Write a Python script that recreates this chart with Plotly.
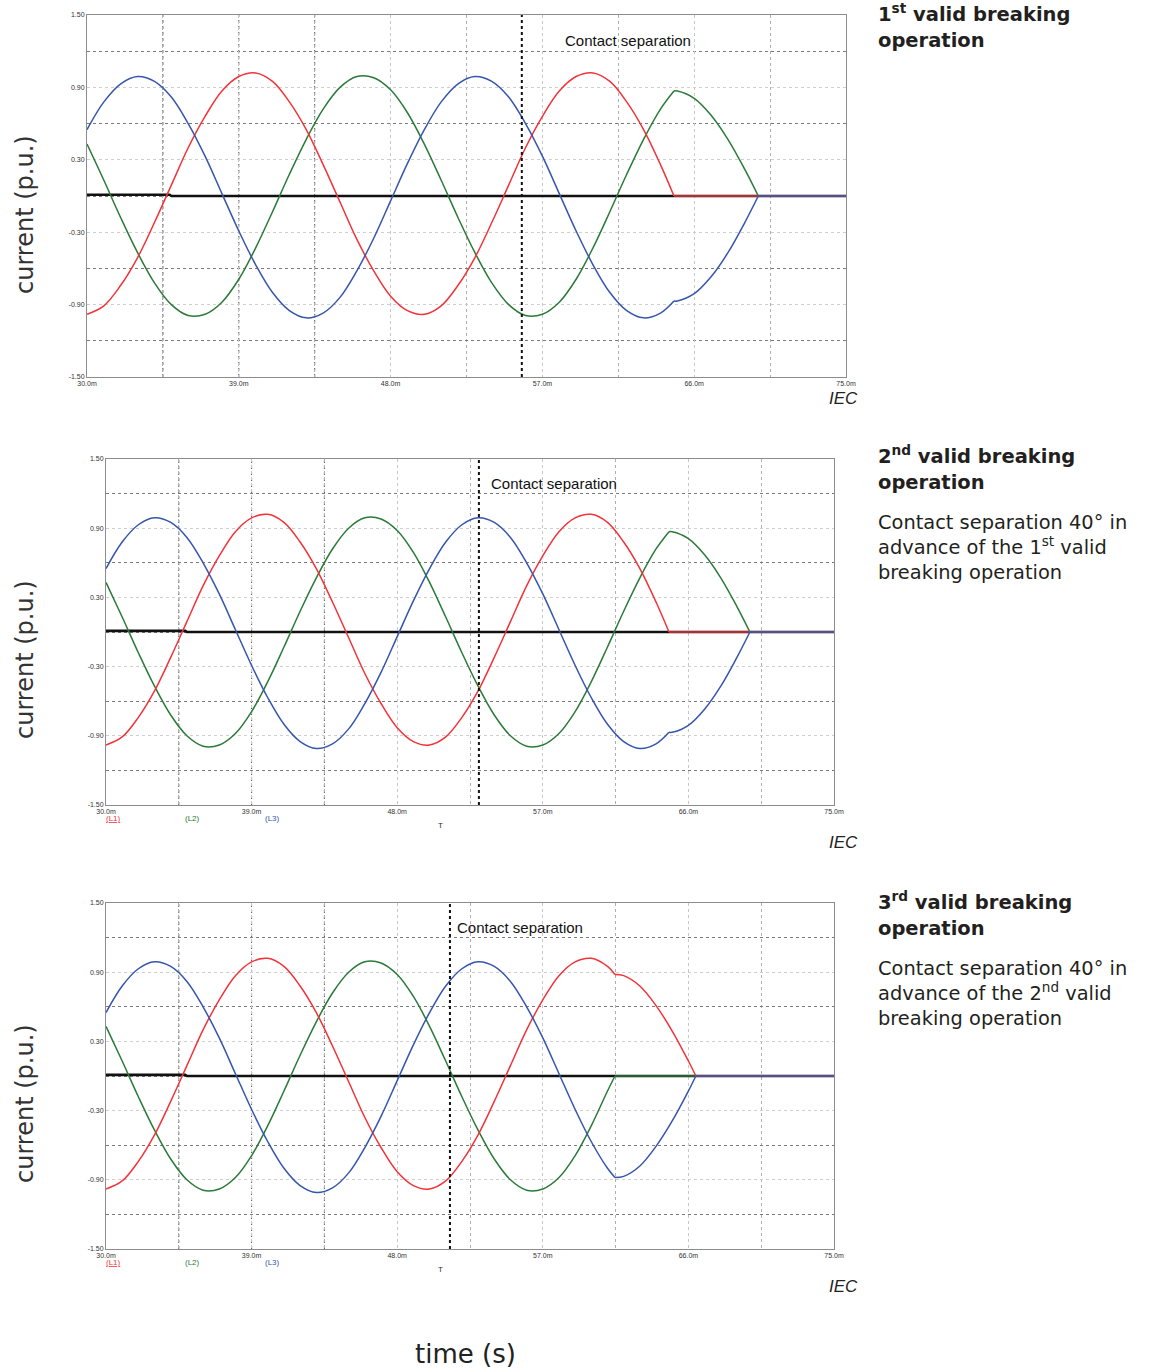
import plotly.graph_objects as go

# ---------------- data ----------------
t_tick_vals = [30, 39, 48, 57, 66, 75]
t_tick_text = ["30.0m", "39.0m", "48.0m", "57.0m", "66.0m", "75.0m"]
i_tick_vals = [1.5, 0.9, 0.3, -0.3, -0.9, -1.5]
i_tick_text = ["1.50", "0.90", "0.30", "-0.30", "-0.90", "-1.50"]

# panel 1 : 1st valid breaking operation
p1_t = [30, 31, 32, 33, 34, 35, 36, 37, 38, 39, 40, 41, 42, 43, 44, 45, 46, 47, 48, 49,
        50, 51, 52, 53, 54, 55, 56, 57, 58, 59, 60, 61, 62, 63, 64,
        64.8, 65, 66, 67, 68, 69, 69.8, 75]
p1_L1 = [-0.98, -0.91, -0.74, -0.51, -0.22, 0.09, 0.40, 0.66, 0.87, 0.99, 1.02, 0.95, 0.78, 0.55, 0.26, -0.05, -0.36, -0.62, -0.83, -0.95,
         -0.98, -0.91, -0.74, -0.51, -0.22, 0.09, 0.40, 0.66, 0.87, 0.99, 1.02, 0.95, 0.78, 0.55, 0.26,
         0.00, 0.00, 0.00, 0.00, 0.00, 0.00, 0.00, 0.00]
p1_L2 = [0.43, 0.13, -0.18, -0.47, -0.72, -0.90, -0.99, -0.98, -0.88, -0.69, -0.43, -0.13, 0.18, 0.47, 0.72, 0.90, 0.99, 0.98, 0.88, 0.69,
         0.43, 0.13, -0.18, -0.47, -0.72, -0.90, -0.99, -0.98, -0.88, -0.69, -0.43, -0.13, 0.18, 0.47, 0.72,
         0.87, 0.87, 0.81, 0.67, 0.47, 0.22, 0.00, 0.00]
p1_L3 = [0.55, 0.78, 0.93, 0.99, 0.95, 0.82, 0.60, 0.33, 0.02, -0.29, -0.57, -0.80, -0.95, -1.01, -0.97, -0.84, -0.62, -0.35, -0.04, 0.27,
         0.55, 0.78, 0.93, 0.99, 0.95, 0.82, 0.60, 0.33, 0.02, -0.29, -0.57, -0.80, -0.95, -1.01, -0.97,
         -0.87, -0.87, -0.81, -0.67, -0.47, -0.22, 0.00, 0.00]

# panel 2 : 2nd valid breaking operation
p2_t = [30, 31, 32, 33, 34, 35, 36, 37, 38, 39, 40, 41, 42, 43, 44, 45, 46, 47, 48, 49,
        50, 51, 52, 53, 54, 55, 56, 57, 58, 59, 60, 61, 62, 63, 64,
        64.8, 65, 66, 67, 68, 69, 69.8, 75]
p2_L1 = [-0.98, -0.91, -0.74, -0.51, -0.22, 0.09, 0.40, 0.66, 0.87, 0.99, 1.02, 0.95, 0.78, 0.55, 0.26, -0.05, -0.36, -0.62, -0.83, -0.95,
         -0.98, -0.91, -0.74, -0.51, -0.22, 0.09, 0.40, 0.66, 0.87, 0.99, 1.02, 0.95, 0.78, 0.55, 0.26,
         0.00, 0.00, 0.00, 0.00, 0.00, 0.00, 0.00, 0.00]
p2_L2 = [0.43, 0.13, -0.18, -0.47, -0.72, -0.90, -0.99, -0.98, -0.88, -0.69, -0.43, -0.13, 0.18, 0.47, 0.72, 0.90, 0.99, 0.98, 0.88, 0.69,
         0.43, 0.13, -0.18, -0.47, -0.72, -0.90, -0.99, -0.98, -0.88, -0.69, -0.43, -0.13, 0.18, 0.47, 0.72,
         0.87, 0.87, 0.81, 0.67, 0.47, 0.22, 0.00, 0.00]
p2_L3 = [0.55, 0.78, 0.93, 0.99, 0.95, 0.82, 0.60, 0.33, 0.02, -0.29, -0.57, -0.80, -0.95, -1.01, -0.97, -0.84, -0.62, -0.35, -0.04, 0.27,
         0.55, 0.78, 0.93, 0.99, 0.95, 0.82, 0.60, 0.33, 0.02, -0.29, -0.57, -0.80, -0.95, -1.01, -0.97,
         -0.87, -0.87, -0.81, -0.67, -0.47, -0.22, 0.00, 0.00]

# panel 3 : 3rd valid breaking operation
p3_t = [30, 31, 32, 33, 34, 35, 36, 37, 38, 39, 40, 41, 42, 43, 44, 45, 46, 47, 48, 49,
        50, 51, 52, 53, 54, 55, 56, 57, 58, 59, 60, 61,
        61.46, 62, 63, 64, 65, 66, 66.46, 75]
p3_L1 = [-0.98, -0.91, -0.74, -0.51, -0.22, 0.09, 0.40, 0.66, 0.87, 0.99, 1.02, 0.95, 0.78, 0.55, 0.26, -0.05, -0.36, -0.62, -0.83, -0.95,
         -0.98, -0.91, -0.74, -0.51, -0.22, 0.09, 0.40, 0.66, 0.87, 0.99, 1.02, 0.95,
         0.88, 0.87, 0.78, 0.61, 0.39, 0.13, 0.00, 0.00]
p3_L2 = [0.43, 0.13, -0.18, -0.47, -0.72, -0.90, -0.99, -0.98, -0.88, -0.69, -0.43, -0.13, 0.18, 0.47, 0.72, 0.90, 0.99, 0.98, 0.88, 0.69,
         0.43, 0.13, -0.18, -0.47, -0.72, -0.90, -0.99, -0.98, -0.88, -0.69, -0.43, -0.13,
         0.00, 0.00, 0.00, 0.00, 0.00, 0.00, 0.00, 0.00]
p3_L3 = [0.55, 0.78, 0.93, 0.99, 0.95, 0.82, 0.60, 0.33, 0.02, -0.29, -0.57, -0.80, -0.95, -1.01, -0.97, -0.84, -0.62, -0.35, -0.04, 0.27,
         0.55, 0.78, 0.93, 0.99, 0.95, 0.82, 0.60, 0.33, 0.02, -0.29, -0.57, -0.80,
         -0.88, -0.87, -0.78, -0.61, -0.39, -0.13, 0.00, 0.00]

# black reference trace (near zero)
sum_t = [30, 34.9, 35.0, 75]
sum_i = [0.01, 0.01, 0.0, 0.0]

break_times = [[64.8, 69.8], [64.8, 69.8], [61.46, 66.46]]
contact_sep_t = [55.78, 53.05, 51.26]
contact_label_t = [58.2, 53.7, 51.55]
cursor_t = [34.5, 39.0, 43.5]

panel_titles = ["1<sup>st</sup> valid breaking<br>operation",
                "2<sup>nd</sup> valid breaking<br>operation",
                "3<sup>rd</sup> valid breaking<br>operation"]
panel_notes = [None,
               "Contact separation 40° in<br>advance of the 1<sup>st</sup> valid<br>breaking operation",
               "Contact separation 40° in<br>advance of the 2<sup>nd</sup> valid<br>breaking operation"]
phase_names = ["(L1)", "(L2)", "(L3)"]

# ---------------- styling / layout ----------------
W, H = 1150, 1369
FONT = "Liberation Sans, Arial, Helvetica, sans-serif"
WIDE = "DejaVu Sans, Liberation Sans, Arial, sans-serif"
COLORS = {"L1": "#f2333a", "L2": "#2b7a38", "L3": "#3655ad"}

# plot area pixel boxes (left, right, top, bottom)
boxes = [(87, 846, 15, 377), (106, 834, 459, 805), (106, 834, 903, 1249)]
ytitle_center = [215, 660, 1104]
iec_center = [398, 842, 1286]
head_top = [-2, 440, 886]
note_top = [None, 509, 955]


def px_x(x):
    return x / W


def px_y(y):
    return 1 - y / H


panels = [
    (p1_t, p1_L1, p1_L2, p1_L3),
    (p2_t, p2_L1, p2_L2, p2_L3),
    (p3_t, p3_L1, p3_L2, p3_L3),
]


def segments(t, v, brk):
    """split a series at the break times so that corners stay sharp"""
    edges = [t[0]] + list(brk) + [t[-1]]
    out = []
    for a, b in zip(edges[:-1], edges[1:]):
        idx = [k for k, tt in enumerate(t) if a <= tt <= b]
        if len(idx) >= 2:
            out.append(([t[k] for k in idx], [v[k] for k in idx]))
    return out


fig = go.Figure()
layout = dict(
    width=W, height=H,
    margin=dict(l=0, r=0, t=0, b=0, autoexpand=False),
    paper_bgcolor="white", plot_bgcolor="white",
    showlegend=False,
    font=dict(family=FONT, color="#222"),
)
shapes = []
annotations = []

for p, (t, L1, L2, L3) in enumerate(panels):
    sfx = "" if p == 0 else str(p + 1)
    xa, ya = "x" + sfx, "y" + sfx
    l, r, tp, bt = boxes[p]

    # black near-zero trace
    fig.add_trace(go.Scatter(x=sum_t, y=sum_i, mode="lines", xaxis=xa, yaxis=ya,
                             line=dict(color="#111", width=2.6), hoverinfo="skip"))
    for name, vals in (("L2", L2), ("L1", L1), ("L3", L3)):
        for sx, sy in segments(t, vals, break_times[p]):
            fig.add_trace(go.Scatter(x=sx, y=sy, mode="lines", xaxis=xa, yaxis=ya,
                                     line=dict(color=COLORS[name], width=1.5,
                                               shape="spline", smoothing=1.0),
                                     hoverinfo="skip"))

    layout["xaxis" + sfx] = dict(
        domain=[px_x(l), px_x(r)], anchor=ya, range=[30, 75], automargin=False,
        tickmode="array", tickvals=t_tick_vals, ticktext=t_tick_text,
        tickfont=dict(size=7, color="#333", family=FONT), ticks="",
        showgrid=True, gridcolor="#c8c8c8", griddash="dot", gridwidth=1,
        minor=dict(tick0=30, dtick=4.5, showgrid=True, gridcolor="#b0b0b0",
                   griddash="dot", gridwidth=1),
        showline=True, linecolor="#8c8c8c", linewidth=1, mirror=True,
        zeroline=False, fixedrange=True,
    )
    layout["yaxis" + sfx] = dict(
        domain=[px_y(bt), px_y(tp)], anchor=xa, range=[-1.5, 1.5], automargin=False,
        tickmode="array", tickvals=i_tick_vals, ticktext=i_tick_text,
        tickfont=dict(size=7, color="#333", family=FONT), ticks="",
        showgrid=True, gridcolor="#cfcfcf", griddash="dot", gridwidth=1,
        minor=dict(tick0=-1.5, dtick=0.3, showgrid=True, gridcolor="#7a7a7a",
                   griddash="dot", gridwidth=1),
        showline=True, linecolor="#8c8c8c", linewidth=1, mirror=True,
        zeroline=False, fixedrange=True,
    )

    # cursor lines
    for c in cursor_t:
        shapes.append(dict(type="line", xref=xa, yref=ya + " domain", x0=c, x1=c, y0=0, y1=1,
                           line=dict(color="#555", width=1, dash="dot"), layer="below"))
    # contact separation line
    shapes.append(dict(type="line", xref=xa, yref=ya + " domain",
                       x0=contact_sep_t[p], x1=contact_sep_t[p], y0=0, y1=1,
                       line=dict(color="#111", width=2, dash="dot")))
    annotations.append(dict(xref=xa, yref=ya, x=contact_label_t[p], y=1.29,
                            text="Contact separation", showarrow=False, xanchor="left",
                            yanchor="middle", font=dict(size=15, color="#111", family=FONT)))

    # y title
    annotations.append(dict(xref="paper", yref="paper", x=px_x(25), y=px_y(ytitle_center[p]),
                            text="current (p.u.)", textangle=-90, showarrow=False,
                            xanchor="center", yanchor="middle",
                            font=dict(size=24, color="#333", family=WIDE)))
    # IEC
    annotations.append(dict(xref="paper", yref="paper", x=px_x(843), y=px_y(iec_center[p]),
                            text="<i>IEC</i>", showarrow=False, xanchor="center", yanchor="middle",
                            font=dict(size=17, color="#222", family=FONT)))
    # heading on the right
    annotations.append(dict(xref="paper", yref="paper", x=px_x(876), y=px_y(head_top[p]),
                            text="<b>" + panel_titles[p] + "</b>", showarrow=False,
                            xanchor="left", yanchor="top", align="left",
                            font=dict(size=19.5, color="#231f20", family=WIDE)))
    if panel_notes[p]:
        annotations.append(dict(xref="paper", yref="paper", x=px_x(876), y=px_y(note_top[p]),
                                text=panel_notes[p], showarrow=False,
                                xanchor="left", yanchor="top", align="left",
                                font=dict(size=19.4, color="#231f20", family=WIDE)))
    # small phase labels under panels 2 and 3
    if p > 0:
        for k, (nm, col, xx) in enumerate(zip(phase_names,
                                              [COLORS["L1"], COLORS["L2"], COLORS["L3"]],
                                              [113, 192, 272])):
            txt = "<u>" + nm + "</u>" if k == 0 else nm
            annotations.append(dict(xref="paper", yref="paper", x=px_x(xx), y=px_y(bt + 13),
                                    text=txt, showarrow=False, xanchor="center", yanchor="middle",
                                    font=dict(size=8, color=col, family=FONT)))
        annotations.append(dict(xref="paper", yref="paper", x=px_x(440), y=px_y(bt + 20),
                                text="T", showarrow=False, xanchor="center", yanchor="middle",
                                font=dict(size=8, color="#333", family=FONT)))

annotations.append(dict(xref="paper", yref="paper", x=px_x(465), y=px_y(1354),
                        text="time (s)", showarrow=False, xanchor="center", yanchor="middle",
                        font=dict(size=26, color="#222", family=WIDE)))

layout["shapes"] = shapes
layout["annotations"] = annotations
fig.update_layout(**layout)
fig.write_html("out.html")
